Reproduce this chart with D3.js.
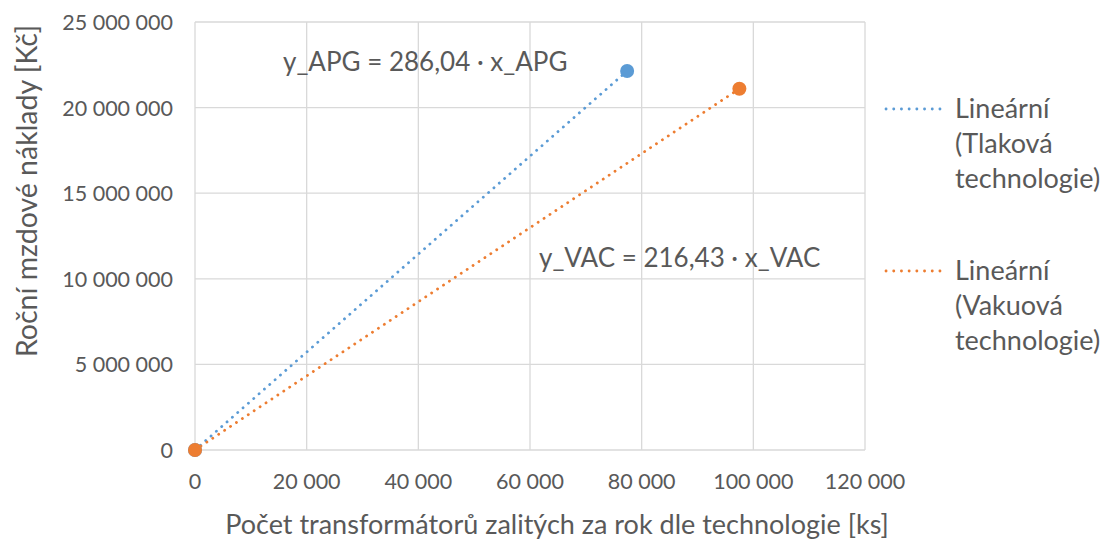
<!DOCTYPE html>
<html>
<head>
<meta charset="utf-8">
<script src="https://cdn.jsdelivr.net/npm/d3@7"></script>
<style>
  body { margin: 0; background: #fff; }
  svg text { font-family: Lato, "Open Sans", sans-serif; fill: #595959; }
</style>
</head>
<body>
<div id="chart"></div>
<script>
// Data
const xTicks = [0, 20000, 40000, 60000, 80000, 100000, 120000];
const yTicks = [0, 5000000, 10000000, 15000000, 20000000, 25000000];
const apgPoints = [[0, 0], [77400, 22140000]];
const vacPoints = [[0, 0], [97500, 21100000]];
const apgSlope = 286.04;
const vacSlope = 216.43;
const seriesNames = ['Lineární (Tlaková technologie)', 'Lineární (Vakuová technologie)'];
const equationLabels = ['y_APG = 286,04 · x_APG', 'y_VAC = 216,43 · x_VAC'];

const width = 1104, height = 542;
const margin = { top: 22, right: 239, bottom: 92, left: 195 };
const colors = ['#5b9bd5', '#ed7d31'];

const svg = d3.select('#chart').append('svg')
    .attr('width', width)
    .attr('height', height);

const x = d3.scaleLinear().domain([0, 120000]).range([margin.left, width - margin.right]);
const y = d3.scaleLinear().domain([0, 25000000]).range([height - margin.bottom, margin.top]);

const fmt = v => d3.format(',')(v).replace(/,/g, ' ');

// Gridlines
svg.append('g').selectAll('line').data(xTicks).join('line')
    .attr('x1', d => x(d)).attr('x2', d => x(d))
    .attr('y1', y(0)).attr('y2', y(25000000))
    .attr('stroke', '#d9d9d9').attr('stroke-width', 1.3);
svg.append('g').selectAll('line').data(yTicks).join('line')
    .attr('x1', x(0)).attr('x2', x(120000))
    .attr('y1', d => y(d)).attr('y2', d => y(d))
    .attr('stroke', '#d9d9d9').attr('stroke-width', 1.3);

// Tick labels
svg.append('g').selectAll('text').data(xTicks).join('text')
    .attr('x', d => x(d)).attr('y', 489)
    .attr('text-anchor', 'middle')
    .attr('font-size', 21.5)
    .text(d => fmt(d));
svg.append('g').selectAll('text').data(yTicks).join('text')
    .attr('x', 173).attr('y', d => y(d) + 8)
    .attr('text-anchor', 'end')
    .attr('font-size', 21.5)
    .text(d => fmt(d));

// Axis titles
svg.append('text')
    .attr('transform', 'translate(37,191) rotate(-90)')
    .attr('text-anchor', 'middle')
    .attr('font-size', 28.5)
    .text('Roční mzdové náklady [Kč]');
svg.append('text')
    .attr('x', 557).attr('y', 534)
    .attr('text-anchor', 'middle')
    .attr('font-size', 27)
    .text('Počet transformátorů zalitých za rok dle technologie [ks]');

// Trendlines through origin
const trend = [
    { slope: apgSlope, xMax: d3.max(apgPoints, d => d[0]), color: colors[0] },
    { slope: vacSlope, xMax: d3.max(vacPoints, d => d[0]), color: colors[1] }
];
svg.append('g').selectAll('line').data(trend).join('line')
    .attr('x1', x(0)).attr('y1', y(0))
    .attr('x2', d => x(d.xMax)).attr('y2', d => y(d.slope * d.xMax))
    .attr('stroke', d => d.color)
    .attr('stroke-width', 2.8)
    .attr('stroke-linecap', 'round')
    .attr('stroke-dasharray', '0.1 7');

// Data points
svg.append('g').selectAll('circle').data(apgPoints).join('circle')
    .attr('cx', d => x(d[0])).attr('cy', d => y(d[1]))
    .attr('r', 7).attr('fill', colors[0]);
svg.append('g').selectAll('circle').data(vacPoints).join('circle')
    .attr('cx', d => x(d[0])).attr('cy', d => y(d[1]))
    .attr('r', 7).attr('fill', colors[1]);

// Equation labels
svg.append('text')
    .attr('x', 283).attr('y', 71)
    .attr('font-size', 26)
    .text(equationLabels[0]);
svg.append('text')
    .attr('x', 539).attr('y', 267)
    .attr('font-size', 26)
    .text(equationLabels[1]);

// Legend
const legendTop = [109, 271];
const lineH = 35;
const legend = svg.append('g');
seriesNames.forEach((name, i) => {
    const words = name.split(' ');
    legend.append('line')
        .attr('x1', 886).attr('x2', 947)
        .attr('y1', legendTop[i]).attr('y2', legendTop[i])
        .attr('stroke', colors[i])
        .attr('stroke-width', 2.8)
        .attr('stroke-linecap', 'round')
        .attr('stroke-dasharray', '0.1 7.6');
    words.forEach((w, j) => {
        legend.append('text')
            .attr('x', 955)
            .attr('y', legendTop[i] + j * lineH + 9)
            .attr('font-size', 27)
            .text(w);
    });
});
</script>
</body>
</html>
